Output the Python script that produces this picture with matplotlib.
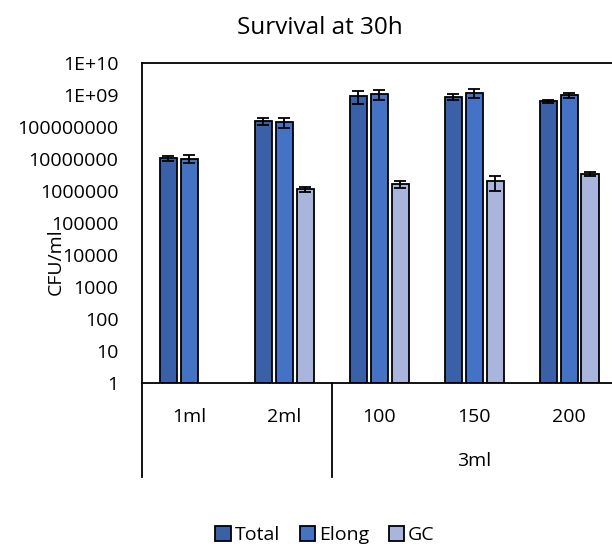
import numpy as np
import matplotlib
matplotlib.use('Agg')
import matplotlib.pyplot as plt
from matplotlib.patches import Patch

plt.rcParams['font.family'] = ['Open Sans', 'DejaVu Sans']

# data (CFU/ml, log axis)
groups = ['1ml', '2ml', '100', '150', '200']
parents = ['', '3ml']
total = [1.1e7, 1.6e8, 9.3e8, 8.9e8, 6.6e8]
total_err = [2.0e6, 4.0e7, 4.0e8, 1.8e8, 7.0e7]
elong = [1.05e7, 1.45e8, 1.07e9, 1.18e9, 1.0e9]
elong_err = [3.0e6, 5.0e7, 3.5e8, 3.8e8, 2.0e8]
gc = [np.nan, 1.13e6, 1.66e6, 2.04e6, 3.4e6]
gc_err = [np.nan, 2.0e5, 4.0e5, 1.0e6, 4.5e5]
ytick_vals = [1, 10, 100, 1000, 10000, 100000, 1000000, 10000000, 100000000, 1e9, 1e10]
ytick_labels = ['1', '10', '100', '1000', '10000', '100000', '1000000',
                '10000000', '100000000', '1E+09', '1E+10']

colors = ['#3A60A7', '#4472C4', '#A9B5DC']
names = ['Total', 'Elong', 'GC']

W, H = 612, 544
fs = 14
fig = plt.figure(figsize=(W/100, H/100), dpi=100)
ax = fig.add_axes([142/W, (H-383)/H, (616.5-142)/W, (383-63.3)/H])

x = np.arange(len(groups))
bw = 0.18
step = 0.221
series = [(total, total_err), (elong, elong_err), (gc, gc_err)]
for i, (vals, errs) in enumerate(series):
    vals = np.array(vals, dtype=float)
    errs = np.array(errs, dtype=float)
    m = ~np.isnan(vals)
    ax.bar(x[m] + (i-1)*step, vals[m], width=bw, bottom=1, color=colors[i],
           edgecolor='black', linewidth=1.3, yerr=errs[m],
           error_kw=dict(ecolor='black', elinewidth=1.3, capsize=4, capthick=1.3))

ax.set_yscale('log')
ax.set_ylim(1, 1e10)
ax.set_xlim(-0.5, len(groups)-0.5)
ax.set_yticks(ytick_vals)
ax.set_yticklabels(ytick_labels)
ax.minorticks_off()
ax.tick_params(axis='y', length=0, pad=17, labelsize=fs)
ax.set_xticks([])
for s in ax.spines.values():
    s.set_linewidth(1.3)

# two-level category axis
tr = ax.get_xaxis_transform()
for i, g in enumerate(groups):
    ax.text(i, -0.105, g, transform=tr, ha='center', va='center', fontsize=fs)
ax.text(3, -0.245, parents[1], transform=tr, ha='center', va='center', fontsize=fs)
for xs in [-0.5, 1.5]:
    ax.plot([xs, xs], [0, -0.294], transform=tr, color='black', lw=1.3, clip_on=False)

fig.text(320/W, 1-28/H, 'Survival at 30h', ha='center', va='center', fontsize=17.5)
fig.text(56/W, 1-262/H, 'CFU/ml', rotation=90, ha='center', va='center', fontsize=fs)

handles = [Patch(facecolor=c, edgecolor='black', linewidth=1.3) for c in colors]
fig.legend(handles, names, loc='center', bbox_to_anchor=(325/W, 1-535/H), ncol=3,
           frameon=False, fontsize=fs, handlelength=0.8, handleheight=0.8,
           handletextpad=0.2, columnspacing=1.0)

fig.savefig('out.png', dpi=100)
